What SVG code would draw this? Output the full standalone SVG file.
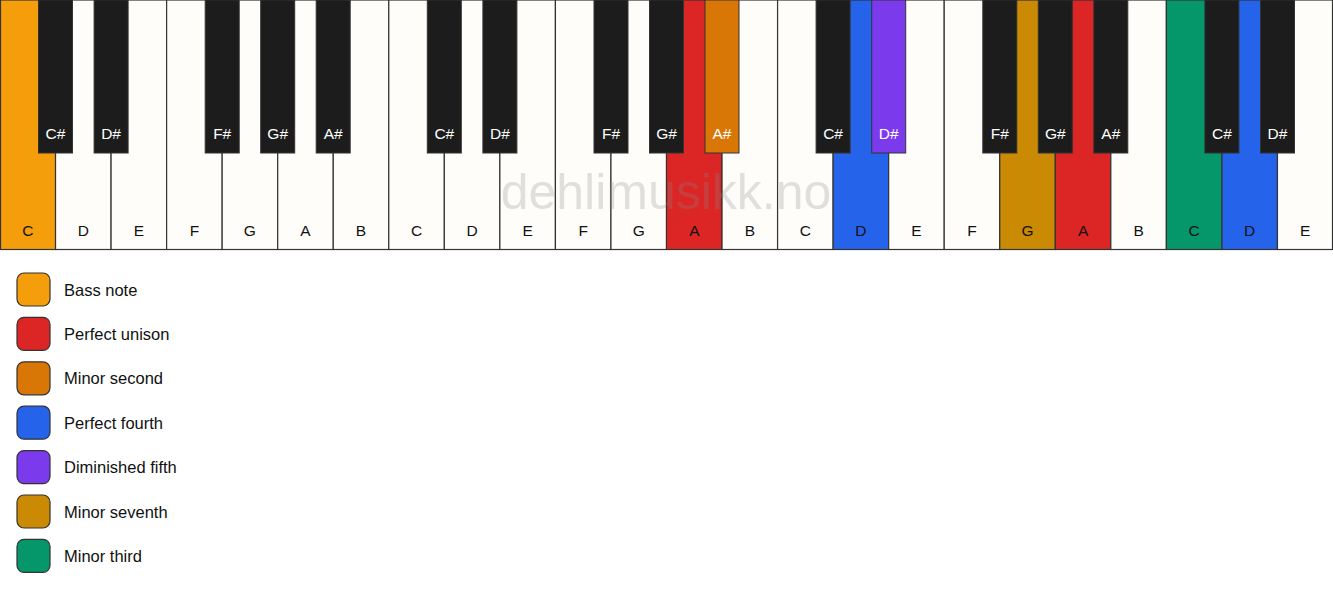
<svg xmlns="http://www.w3.org/2000/svg" width="1333" height="594" viewBox="0 0 1333 594">
<style>
.w{fill:#fffdf9;stroke:#333;stroke-width:1.2}
.b{fill:#1c1c1c;stroke:#333;stroke-width:1}
.wl{font-family:"Liberation Sans",Arial,sans-serif;font-size:15.5px;fill:#111;text-anchor:middle}
.bl{font-family:"Liberation Sans",Arial,sans-serif;font-size:15.5px;fill:#fff;text-anchor:middle}
.lg{stroke:#333;stroke-width:1.2}
.lt{font-family:"Liberation Sans",Arial,sans-serif;font-size:16.5px;fill:#111}
.wm{font-family:"Liberation Sans",Arial,sans-serif;font-size:50px;fill:#888;fill-opacity:0.25;text-anchor:middle}
</style>
<rect width="1333" height="594" fill="#ffffff"/>
<g id="white-keys">
<g id="w0"><rect class="w" x="0.5" y="0" width="55.04" height="249.5" style="fill:#f59e0b"/><text class="wl" x="27.8" y="236">C</text></g>
<g id="w1"><rect class="w" x="55.54" y="0" width="55.54" height="249.5"/><text class="wl" x="83.3" y="236">D</text></g>
<g id="w2"><rect class="w" x="111.08" y="0" width="55.54" height="249.5"/><text class="wl" x="138.9" y="236">E</text></g>
<g id="w3"><rect class="w" x="166.62" y="0" width="55.54" height="249.5"/><text class="wl" x="194.4" y="236">F</text></g>
<g id="w4"><rect class="w" x="222.17" y="0" width="55.54" height="249.5"/><text class="wl" x="249.9" y="236">G</text></g>
<g id="w5"><rect class="w" x="277.71" y="0" width="55.54" height="249.5"/><text class="wl" x="305.5" y="236">A</text></g>
<g id="w6"><rect class="w" x="333.25" y="0" width="55.54" height="249.5"/><text class="wl" x="361" y="236">B</text></g>
<g id="w7"><rect class="w" x="388.79" y="0" width="55.54" height="249.5"/><text class="wl" x="416.6" y="236">C</text></g>
<g id="w8"><rect class="w" x="444.33" y="0" width="55.54" height="249.5"/><text class="wl" x="472.1" y="236">D</text></g>
<g id="w9"><rect class="w" x="499.87" y="0" width="55.54" height="249.5"/><text class="wl" x="527.6" y="236">E</text></g>
<g id="w10"><rect class="w" x="555.42" y="0" width="55.54" height="249.5"/><text class="wl" x="583.2" y="236">F</text></g>
<g id="w11"><rect class="w" x="610.96" y="0" width="55.54" height="249.5"/><text class="wl" x="638.7" y="236">G</text></g>
<g id="w12"><rect class="w" x="666.5" y="0" width="55.54" height="249.5" style="fill:#dc2626"/><text class="wl" x="694.3" y="236">A</text></g>
<g id="w13"><rect class="w" x="722.04" y="0" width="55.54" height="249.5"/><text class="wl" x="749.8" y="236">B</text></g>
<g id="w14"><rect class="w" x="777.58" y="0" width="55.54" height="249.5"/><text class="wl" x="805.4" y="236">C</text></g>
<g id="w15"><rect class="w" x="833.12" y="0" width="55.54" height="249.5" style="fill:#2563eb"/><text class="wl" x="860.9" y="236">D</text></g>
<g id="w16"><rect class="w" x="888.67" y="0" width="55.54" height="249.5"/><text class="wl" x="916.4" y="236">E</text></g>
<g id="w17"><rect class="w" x="944.21" y="0" width="55.54" height="249.5"/><text class="wl" x="972" y="236">F</text></g>
<g id="w18"><rect class="w" x="999.75" y="0" width="55.54" height="249.5" style="fill:#ca8a04"/><text class="wl" x="1027.5" y="236">G</text></g>
<g id="w19"><rect class="w" x="1055.29" y="0" width="55.54" height="249.5" style="fill:#dc2626"/><text class="wl" x="1083.1" y="236">A</text></g>
<g id="w20"><rect class="w" x="1110.83" y="0" width="55.54" height="249.5"/><text class="wl" x="1138.6" y="236">B</text></g>
<g id="w21"><rect class="w" x="1166.37" y="0" width="55.54" height="249.5" style="fill:#059669"/><text class="wl" x="1194.1" y="236">C</text></g>
<g id="w22"><rect class="w" x="1221.92" y="0" width="55.54" height="249.5" style="fill:#2563eb"/><text class="wl" x="1249.7" y="236">D</text></g>
<g id="w23"><rect class="w" x="1277.46" y="0" width="55.04" height="249.5"/><text class="wl" x="1305.2" y="236">E</text></g>
</g>
<text class="wm" x="666" y="209">dehlimusikk.no</text>
<g id="black-keys">
<g id="b0"><rect class="b" x="38.5" y="0" width="34" height="153"/><text class="bl" x="55.5" y="139">C#</text></g>
<g id="b1"><rect class="b" x="94.1" y="0" width="34" height="153"/><text class="bl" x="111.1" y="139">D#</text></g>
<g id="b2"><rect class="b" x="205.2" y="0" width="34" height="153"/><text class="bl" x="222.2" y="139">F#</text></g>
<g id="b3"><rect class="b" x="260.7" y="0" width="34" height="153"/><text class="bl" x="277.7" y="139">G#</text></g>
<g id="b4"><rect class="b" x="316.2" y="0" width="34" height="153"/><text class="bl" x="333.2" y="139">A#</text></g>
<g id="b5"><rect class="b" x="427.3" y="0" width="34" height="153"/><text class="bl" x="444.3" y="139">C#</text></g>
<g id="b6"><rect class="b" x="482.9" y="0" width="34" height="153"/><text class="bl" x="499.9" y="139">D#</text></g>
<g id="b7"><rect class="b" x="594" y="0" width="34" height="153"/><text class="bl" x="611" y="139">F#</text></g>
<g id="b8"><rect class="b" x="649.5" y="0" width="34" height="153"/><text class="bl" x="666.5" y="139">G#</text></g>
<g id="b9"><rect class="b" x="705" y="0" width="34" height="153" style="fill:#d97706"/><text class="bl" x="722" y="139">A#</text></g>
<g id="b10"><rect class="b" x="816.1" y="0" width="34" height="153"/><text class="bl" x="833.1" y="139">C#</text></g>
<g id="b11"><rect class="b" x="871.7" y="0" width="34" height="153" style="fill:#7c3aed"/><text class="bl" x="888.7" y="139">D#</text></g>
<g id="b12"><rect class="b" x="982.8" y="0" width="34" height="153"/><text class="bl" x="999.8" y="139">F#</text></g>
<g id="b13"><rect class="b" x="1038.3" y="0" width="34" height="153"/><text class="bl" x="1055.3" y="139">G#</text></g>
<g id="b14"><rect class="b" x="1093.8" y="0" width="34" height="153"/><text class="bl" x="1110.8" y="139">A#</text></g>
<g id="b15"><rect class="b" x="1204.9" y="0" width="34" height="153"/><text class="bl" x="1221.9" y="139">C#</text></g>
<g id="b16"><rect class="b" x="1260.5" y="0" width="34" height="153"/><text class="bl" x="1277.5" y="139">D#</text></g>
</g>
<g id="legend">
<g id="lg0"><rect class="lg" x="17" y="273" width="33" height="33" rx="7" fill="#f59e0b"/><text class="lt" x="64" y="295.5">Bass note</text></g>
<g id="lg1"><rect class="lg" x="17" y="317.4" width="33" height="33" rx="7" fill="#dc2626"/><text class="lt" x="64" y="339.9">Perfect unison</text></g>
<g id="lg2"><rect class="lg" x="17" y="361.8" width="33" height="33" rx="7" fill="#d97706"/><text class="lt" x="64" y="384.3">Minor second</text></g>
<g id="lg3"><rect class="lg" x="17" y="406.2" width="33" height="33" rx="7" fill="#2563eb"/><text class="lt" x="64" y="428.7">Perfect fourth</text></g>
<g id="lg4"><rect class="lg" x="17" y="450.6" width="33" height="33" rx="7" fill="#7c3aed"/><text class="lt" x="64" y="473.1">Diminished fifth</text></g>
<g id="lg5"><rect class="lg" x="17" y="495" width="33" height="33" rx="7" fill="#ca8a04"/><text class="lt" x="64" y="517.5">Minor seventh</text></g>
<g id="lg6"><rect class="lg" x="17" y="539.4" width="33" height="33" rx="7" fill="#059669"/><text class="lt" x="64" y="561.9">Minor third</text></g>
</g>
</svg>
